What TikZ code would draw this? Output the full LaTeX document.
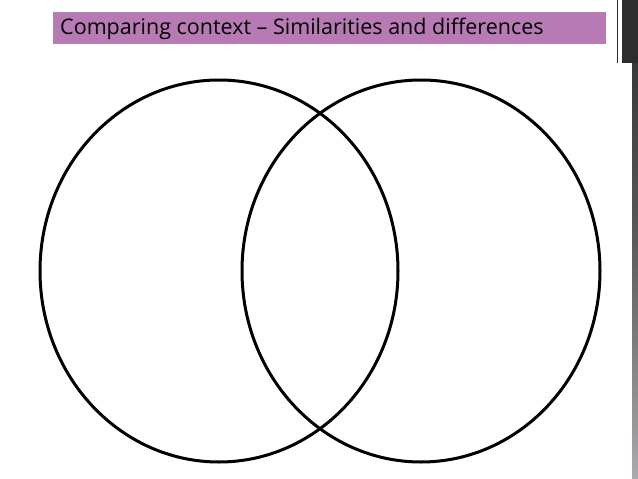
\documentclass[tikz,border=0pt]{standalone}
\usepackage{fontspec}
\setmainfont{Open Sans}
\usetikzlibrary{shapes.geometric}
\definecolor{barpurple}{RGB}{184,122,180}
\definecolor{stripdark}{RGB}{45,45,45}
\definecolor{stripmid}{RGB}{90,90,90}
\definecolor{striplight}{RGB}{170,170,175}
\tikzset{
  venn/.style={ellipse, draw=black, line width=3pt, minimum width=358pt, minimum height=382pt, inner sep=0pt},
  titlebar/.style={fill=barpurple, draw=none, minimum width=553pt, minimum height=32pt, inner sep=0pt, anchor=north west},
}
\begin{document}
\begin{tikzpicture}[x=1pt,y=-1pt]
\useasboundingbox (0,0) rectangle (638,479);
\fill[white] (0,0) rectangle (638,479);
% right decorative strip
\shade[top color=stripdark, bottom color=striplight, middle color=stripmid] (632,0) rectangle (638,479);
\fill[stripdark] (622,0) rectangle (638,63);
\draw[stripdark, line width=1pt] (617,0) -- (617,63);
% title bar
\node[titlebar] (bar) at (53,12) {};
\node[anchor=west, font=\fontsize{21.5}{24}\selectfont, inner sep=0pt] (title) at (60,28.5) {Comparing context – Similarities and differences};
% circles
\node[venn] (left) at (219,271) {};
\node[venn] (right) at (421,271) {};
\end{tikzpicture}
\end{document}
